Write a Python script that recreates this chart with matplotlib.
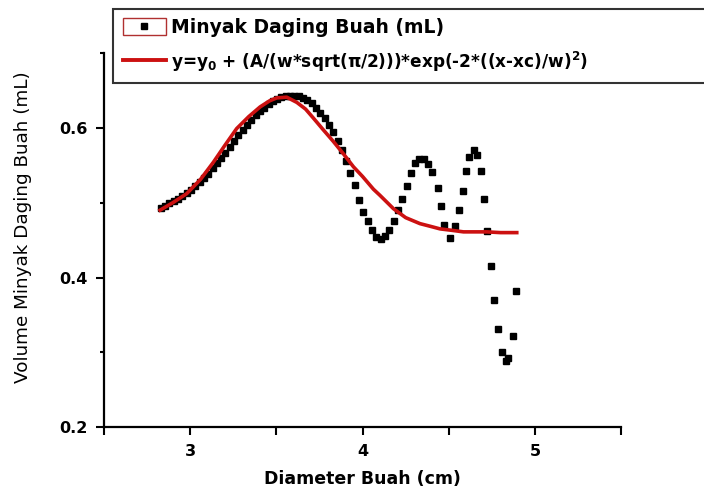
import matplotlib
matplotlib.use('Agg')
import matplotlib.pyplot as plt
from matplotlib.lines import Line2D
from matplotlib.patches import Rectangle
from matplotlib.legend_handler import HandlerTuple
from matplotlib.ticker import FixedLocator

plt.rcParams['font.family'] = ['DejaVu Sans']

# measured points (diameter cm, volume mL)
diam = [2.83, 2.855, 2.88, 2.905, 2.93, 2.955, 2.98, 3.005, 3.03, 3.055,
        3.08, 3.105, 3.13, 3.155, 3.18, 3.205, 3.23, 3.255, 3.28, 3.305,
        3.33, 3.355, 3.38, 3.405, 3.43, 3.455, 3.48, 3.505, 3.53, 3.555,
        3.58, 3.605, 3.63, 3.655, 3.68, 3.705, 3.73, 3.755, 3.78, 3.805,
        3.83, 3.855, 3.88, 3.905, 3.93, 3.955, 3.98, 4.005, 4.03, 4.055,
        4.08, 4.105, 4.13, 4.155, 4.18, 4.205, 4.23, 4.255, 4.28, 4.305,
        4.33, 4.355, 4.38, 4.405, 4.435, 4.453, 4.472, 4.507, 4.536, 4.559,
        4.584, 4.600, 4.619, 4.646, 4.662, 4.685, 4.704, 4.723, 4.745, 4.762,
        4.787, 4.807, 4.832, 4.845, 4.870, 4.890]
volume = [.493, .496, .499, .502, .505, .509, .513, .517, .522, .527,
          .533, .539, .546, .553, .560, .567, .575, .582, .590, .597,
          .604, .610, .617, .622, .627, .632, .636, .639, .641, .643,
          .643, .643, .642, .640, .637, .633, .627, .620, .613, .604,
          .594, .582, .570, .556, .540, .523, .503, .488, .476, .463,
          .454, .451, .455, .464, .476, .490, .505, .522, .540, .553,
          .559, .559, .552, .541, .520, .495, .470, .453, .469, .490,
          .516, .542, .561, .571, .564, .542, .505, .462, .415, .370,
          .331, .301, .288, .293, .322, .382]

# gauss fit curve
fit_x = [2.826, 2.90, 2.98, 3.06, 3.135, 3.20, 3.27, 3.34, 3.406, 3.46,
         3.502, 3.56, 3.619, 3.67, 3.715, 3.77, 3.83, 3.89, 3.947, 4.00,
         4.063, 4.10, 4.179, 4.25, 4.333, 4.40, 4.449, 4.52, 4.585, 4.65,
         4.72, 4.80, 4.894]
fit_y = [0.490, 0.500, 0.512, 0.531, 0.554, 0.576, 0.599, 0.615, 0.628, 0.636,
         0.640, 0.641, 0.634, 0.625, 0.613, 0.598, 0.582, 0.565, 0.548, 0.535,
         0.518, 0.510, 0.492, 0.480, 0.472, 0.468, 0.465, 0.463, 0.461, 0.461,
         0.461, 0.460, 0.460]

fig = plt.figure(figsize=(7.04, 4.91), dpi=100)
ax = fig.add_axes([0.1475, 0.130, 0.735, 0.762])

ax.plot(diam, volume, 's', color='black', markersize=4.8, zorder=2)
ax.plot(fit_x, fit_y, '-', color='#cc1111', linewidth=2.6, zorder=3)

ax.set_xlim(2.5, 5.5)
ax.set_ylim(0.2, 0.7)
for s in ['top', 'right']:
    ax.spines[s].set_visible(False)
for s in ['left', 'bottom']:
    ax.spines[s].set_linewidth(1.6)

ax.xaxis.set_major_locator(FixedLocator([3, 4, 5]))
ax.xaxis.set_minor_locator(FixedLocator([2.5, 3.5, 4.5, 5.5]))
ax.yaxis.set_major_locator(FixedLocator([0.2, 0.4, 0.6]))
ax.yaxis.set_minor_locator(FixedLocator([0.3, 0.5, 0.7]))
ax.tick_params(axis='x', which='both', direction='out', length=6, width=1.5)
ax.tick_params(axis='y', which='major', direction='out', length=6, width=1.5)
ax.tick_params(axis='y', which='minor', direction='out', length=3, width=1.5)
ax.tick_params(axis='both', labelsize=11.5, pad=6)
ax.set_yticklabels(['0.2', '0.4', '0.6'])
for lab in ax.get_xticklabels() + ax.get_yticklabels():
    lab.set_fontweight('bold')

ax.set_xlabel('Diameter Buah (cm)', fontsize=12.5, fontweight='bold')
ax.set_ylabel('Volume Minyak Daging Buah (mL)', fontsize=13.2)
ax.xaxis.set_label_coords(0.5, -0.115)
ax.yaxis.set_label_coords(-0.139, 0.535)

box = Rectangle((0, 0), 1, 1, facecolor='white', edgecolor='#b03030', linewidth=1)
sq = Line2D([], [], marker='s', color='black', linestyle='none', markersize=5)
fitline = Line2D([], [], color='#cc1111', linewidth=2.8)
leg = fig.legend([(box, sq), fitline],
                 ['Minyak Daging Buah (mL)',
                  r'y=y$_\mathbf{0}$ + (A/(w*sqrt(π/2)))*exp(-2*((x-xc)/w)$^\mathbf{2}$)'],
                 handler_map={tuple: HandlerTuple(ndivide=1)},
                 loc='upper left', bbox_to_anchor=(0.161, 0.982, 0.9, 0),
                 mode='expand',
                 prop={'weight': 'bold', 'size': 13.5},
                 frameon=True, fancybox=False, framealpha=1,
                 edgecolor='#333333', handlelength=2.3, handleheight=1.0,
                 handletextpad=0.3, labelspacing=0.65, borderpad=0.5,
                 borderaxespad=0)
leg.get_frame().set_linewidth(1.5)
leg.get_texts()[1].set_fontsize(12.2)

fig.savefig('out.png', dpi=100)
